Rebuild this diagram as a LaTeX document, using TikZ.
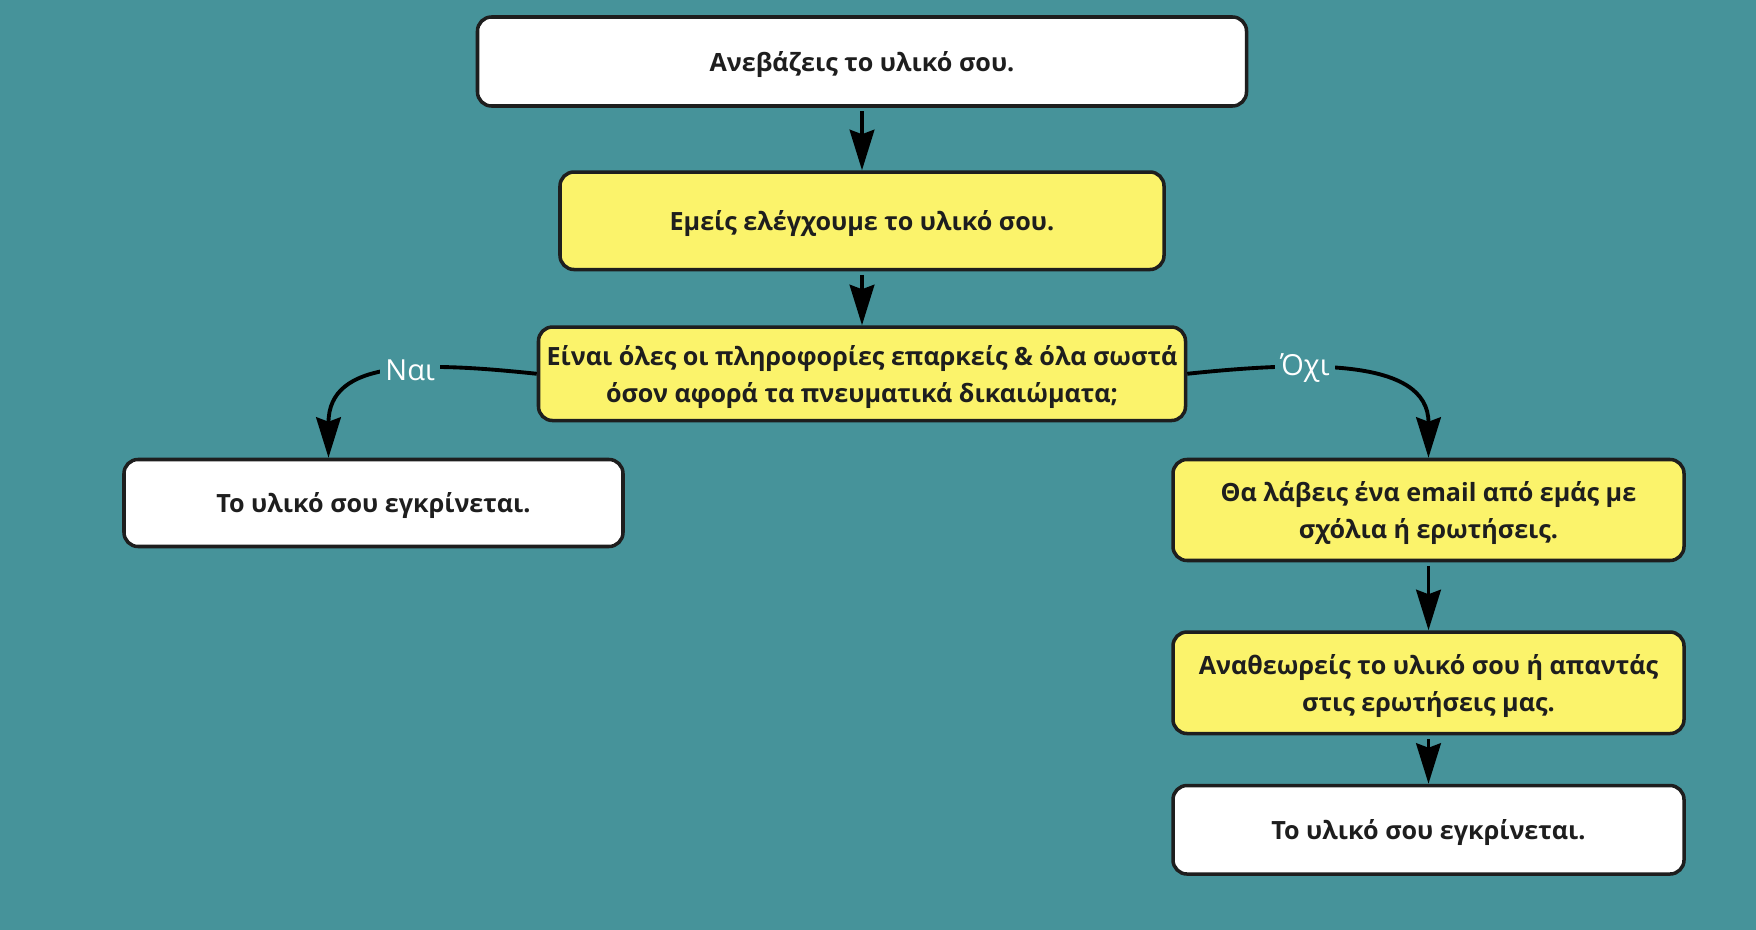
\documentclass[tikz,border=0pt]{standalone}
\usepackage{fontspec}
\setmainfont{Open Sans}
\newfontfamily\lblfont{Open Sans}
\usetikzlibrary{positioning, arrows.meta}
\definecolor{bgteal}{RGB}{70,147,154}
\definecolor{boxyellow}{RGB}{251,243,107}
\definecolor{boxline}{RGB}{30,30,30}

\begin{document}
\begin{tikzpicture}[node distance={1.3cm},
        box/.style={draw=boxline, line width=2pt, rounded corners=0.28cm, fill=white, align=center,
            text=boxline, text depth=0pt, font=\fontsize{14.3}{21}\selectfont\bfseries},
        ybox/.style={box, fill=boxyellow},
        lbl/.style={fill=bgteal, text=white, inner xsep=3pt, inner ysep=1pt,
            font=\lblfont\fontsize{16.5}{20}\selectfont},
        arr/.style={line width=2.2pt, -{Stealth[length=23pt, width=14pt, inset=2.5pt]}}]
        \fill[bgteal] (0,0) rectangle (35.12,-18.6);
        \useasboundingbox (0,0) rectangle (35.12,-18.6);

        \node[box, minimum width=15.38cm, minimum height=1.78cm] (1) at (17.24,-1.23) {Ανεβάζεις το υλικό σου.};
        \node[ybox, minimum width=12.08cm, minimum height=1.95cm] (2) [below=1.25cm of 1] {Εμείς ελέγχουμε το υλικό σου.};
        \node[ybox, minimum width=12.94cm, minimum height=1.87cm] (3) [below=1.08cm of 2] {Είναι όλες οι πληροφορίες επαρκείς \& όλα σωστά\\ όσον αφορά τα πνευματικά δικαιώματα;};
        \node[box, minimum width=9.98cm, minimum height=1.74cm] (4) at (7.47,-10.06) {Το υλικό σου εγκρίνεται.};
        \node[ybox, minimum width=10.22cm, minimum height=2.02cm] (5) at (28.57,-10.2) {Θα λάβεις ένα email από εμάς με\\ σχόλια ή ερωτήσεις.};
        \node[ybox, minimum width=10.22cm, minimum height=2.03cm] (6) [below=1.36cm of 5] {Αναθεωρείς το υλικό σου ή απαντάς\\ στις ερωτήσεις μας.};
        \node[box, minimum width=10.22cm, minimum height=1.77cm] (7) [below=0.97cm of 6] {Το υλικό σου εγκρίνεται.};
        \coordinate (4t) at ([xshift=-0.9cm]4.north);

        \draw[arr, shorten <=2pt] (1) to (2);
        \draw[arr, shorten <=2pt] (2) to (3);
        \draw[arr] (3.west) to [out=174, in=90, out distance=2.36cm, in distance=1.96cm] node[lbl, pos=0.41] {Ναι} (4t);
        \draw[arr] (3.east) to [out=6, in=90, out distance=2.4cm, in distance=2cm] node[lbl, pos=0.34] {Όχι} (5.north);
        \draw[arr, shorten <=2pt] (5) to (6);
        \draw[arr, shorten <=2pt] (6) to (7);
    \end{tikzpicture}
\end{document}
